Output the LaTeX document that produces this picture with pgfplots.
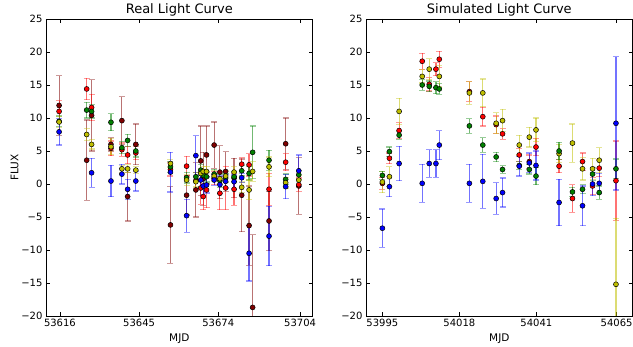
\documentclass[border=0pt]{standalone}
\usepackage{pgfplots}
\pgfplotsset{compat=1.18}
\usepackage{fontspec}
\setmainfont{DejaVu Sans}
\definecolor{cB}{rgb}{0,0,1}
\definecolor{cG}{rgb}{0,0.5,0}
\definecolor{cR}{rgb}{1,0,0}
\definecolor{cY}{rgb}{0.75,0.75,0}
\definecolor{cD}{rgb}{0.5,0,0}
\pgfplotsset{
  every axis title shift=0pt,
  lc/.style={axis line style={black,line width=0.8pt}, tick style={black,line width=0.6pt}, major tick length=4pt, tick align=inside,
    ymin=-20, ymax=25, ytick={-20,-15,...,25},
    yticklabels={−20,−15,−10,−5,0,5,10,15,20,25},
    scaled x ticks=false, scaled y ticks=false,
    scale only axis, width=266.7pt, height=297pt, anchor=south west,
    tick label style={font=\fontsize{10}{12}\selectfont},
    label style={font=\fontsize{10.5}{12}\selectfont},
    title style={font=\fontsize{13}{15}\selectfont, at={(0.5,1)}, anchor=south, yshift=0pt, inner sep=2.5pt},
    xlabel shift=0pt,
  },
  ser/.style={only marks, mark=*, mark size=2.5pt, mark options={draw=black, fill=#1, line width=0.5pt, opacity=1},
    error bars/.cd, y dir=both, y explicit,
    error bar style={draw=#1, opacity=0.55, line width=1.2pt},
    error mark options={rotate=90, draw=#1, opacity=0.4, line width=1.2pt, mark size=3pt}},
}
\begin{document}
\begin{tikzpicture}
\useasboundingbox (0,0) rectangle (633pt,347pt);
\begin{axis}[lc, at={(46pt,31pt)}, xmin=53610.9, xmax=53708.6,
  xtick={53616,53645,53674,53704}, xticklabels={53616,53645,53674,53704},
  title={Real Light Curve}, xlabel={MJD}, ylabel={FLUX}, ylabel shift=-4pt]
\addplot[ser=cD] table[x index=0,y index=1,y error index=2] {
53615.7 11.9 4.5
53625.8 3.6 6.1
53627.6 10.4 5.4
53634.7 6.0 1.0
53638.7 9.6 3.6
53640.8 -1.9 3.7
53643.8 6.0 3.1
53656.5 -6.2 5.8
53662.4 -1.7 3.0
53665.8 -0.9 4.1
53667.6 3.5 5.3
53668.5 0.8 4.0
53669.7 4.4 4.4
53672.5 5.9 3.5
53674.6 1.8 4.0
53676.7 1.9 3.0
53679.8 0.9 3.0
53682.6 -1.7 5.5
53685.3 -6.3 6.0
53686.6 -18.7 11
53692.6 -5.6 4.5
53698.7 6.1 3.9
53703.5 -0.3 4.3
};
\addplot[ser=cR] table[x index=0,y index=1,y error index=2] {
53615.7 11.0 1.6
53625.8 14.4 1.6
53627.6 11.6 2.0
53634.7 5.4 1.1
53638.7 5.2 1.0
53640.8 4.4 1.3
53643.8 4.7 1.0
53656.5 2.2 1.0
53662.4 2.7 1.5
53665.8 0.5 1.2
53667.6 -0.6 2.5
53668.5 -1.9 2.0
53669.7 -0.9 2.7
53672.5 0.9 1.0
53674.6 -1.4 2.5
53676.7 -0.6 3.3
53679.8 -0.8 2.4
53682.6 3.0 1.0
53685.3 2.9 1.7
53692.6 -0.8 2.4
53698.7 3.3 1.3
53703.5 -0.1 1.0
};
\addplot[ser=cG] table[x index=0,y index=1,y error index=2] {
53615.7 9.5 0.8
53625.8 11.2 1.2
53627.6 11.0 1.0
53634.7 9.35 1.3
53638.7 5.5 0.9
53640.8 6.6 0.9
53643.8 5.0 0.9
53656.5 2.6 0.8
53662.4 0.95 0.8
53665.8 1.1 0.7
53667.6 2.1 0.8
53668.5 1.3 0.7
53669.7 1.1 0.8
53672.5 1.5 0.7
53674.6 0.5 1.0
53676.7 0.9 0.7
53679.8 1.1 0.8
53682.6 2.0 0.8
53685.3 1.6 1.0
53686.6 4.8 4.0
53692.6 3.6 1.5
53698.7 0.7 0.8
53703.5 1.4 0.7
};
\addplot[ser=cY] table[x index=0,y index=1,y error index=2] {
53615.7 9.4 0.8
53625.8 7.5 0.9
53627.6 6.0 0.7
53634.7 5.65 1.2
53638.7 2.3 0.5
53640.8 2.3 0.6
53643.8 2.1 0.5
53656.5 3.1 0.6
53662.4 0.6 0.8
53665.8 0.35 0.8
53667.6 1.6 0.8
53668.5 1.9 0.8
53669.7 1.9 0.8
53672.5 1.2 0.8
53674.6 0.8 0.8
53676.7 1.2 0.8
53679.8 1.8 0.8
53682.6 -0.5 0.8
53685.3 -0.9 1.5
53686.6 1.9 1.5
53692.6 2.6 1.5
53698.7 0.2 0.8
53703.5 0.6 0.7
};
\addplot[ser=cB] table[x index=0,y index=1,y error index=2] {
53615.7 7.9 2.0
53627.6 1.7 2.2
53634.7 0.45 2.4
53638.7 1.5 1.5
53640.8 -0.8 1.5
53643.8 0.45 1.5
53656.5 1.8 3.0
53662.4 -4.8 2.5
53665.8 4.3 3.0
53667.6 0.6 1.0
53668.5 -0.3 1.5
53669.7 -0.15 1.2
53672.5 0.6 0.8
53674.6 -0.1 1.3
53676.7 0.4 1.0
53679.8 0.35 1.0
53682.6 0.95 0.7
53685.3 -10.5 4.2
53692.6 -7.9 4.5
53698.7 -0.4 1.8
53703.5 2.0 2.4
};
\end{axis}
\begin{axis}[lc, at={(366pt,31pt)}, xmin=53990.1, xmax=54069.8,
  xtick={53995,54018,54041,54065}, xticklabels={53995,54018,54041,54065},
  title={Simulated Light Curve}, xlabel={MJD}]
\addplot[ser=cR] table[x index=0,y index=1,y error index=2] {
53995.0 0.1 0.9
53997.1 3.9 0.8
54000.0 8.1 1.2
54006.9 18.6 1.2
54009.0 15.1 1.0
54011.0 17.4 1.0
54012.0 18.9 1.2
54021.0 14.0 1.5
54025.0 10.2 1.4
54029.0 9.0 1.3
54030.9 7.6 0.8
54035.9 4.4 1.0
54038.9 3.4 1.0
54040.9 5.6 1.3
54047.8 2.7 1.0
54051.8 -2.2 2.1
54054.8 3.4 1.3
54057.8 -0.3 1.3
54059.8 2.4 1.3
54064.8 0.5 6.0
};
\addplot[ser=cY] table[x index=0,y index=1,y error index=2] {
53995.0 0.3 1.6
53997.1 1.1 1.5
54000.0 11.0 2.0
54006.9 16.3 1.0
54009.0 17.4 1.6
54012.0 16.3 1.6
54021.0 13.8 1.7
54025.0 13.8 2.1
54029.0 9.2 1.6
54030.9 9.6 1.7
54035.9 5.9 1.5
54038.9 7.1 1.5
54040.9 8.2 1.8
54047.8 4.6 1.4
54051.8 6.2 2.9
54054.8 2.3 1.7
54057.8 2.3 1.6
54059.8 3.6 1.9
54064.8 -15.2 10
};
\addplot[ser=cG] table[x index=0,y index=1,y error index=2] {
53995.0 1.3 0.6
53997.1 4.9 0.7
54000.0 7.4 0.6
54006.9 15.0 0.8
54009.0 14.8 0.8
54011.0 14.6 0.9
54012.0 14.4 0.8
54021.0 8.8 1.1
54025.0 5.9 1.1
54029.0 4.1 0.7
54030.9 2.2 0.6
54035.9 2.8 0.6
54038.9 2.2 0.7
54040.9 1.2 1.3
54047.8 5.0 1.3
54051.8 -1.2 0.7
54054.8 -0.8 0.7
54057.8 1.5 1.0
54059.8 -1.3 1.0
54064.8 2.3 1.5
};
\addplot[ser=cB] table[x index=0,y index=1,y error index=2] {
53995.0 -6.7 2.9
53997.1 -0.4 1.5
54000.0 3.1 2.6
54006.9 0.1 2.9
54009.0 3.1 2.1
54011.0 3.1 2.1
54012.0 5.9 2.2
54021.0 0.1 2.9
54025.0 0.4 4.1
54029.0 -2.2 2.4
54030.9 -1.3 2.2
54035.9 2.7 1.5
54038.9 3.2 1.5
54040.9 2.8 2.2
54047.8 -2.8 3.5
54054.8 -3.3 3.0
54057.8 0.0 1.8
54059.8 0.1 1.5
54064.8 9.2 10.1
};
\end{axis}
\end{tikzpicture}
\end{document}
